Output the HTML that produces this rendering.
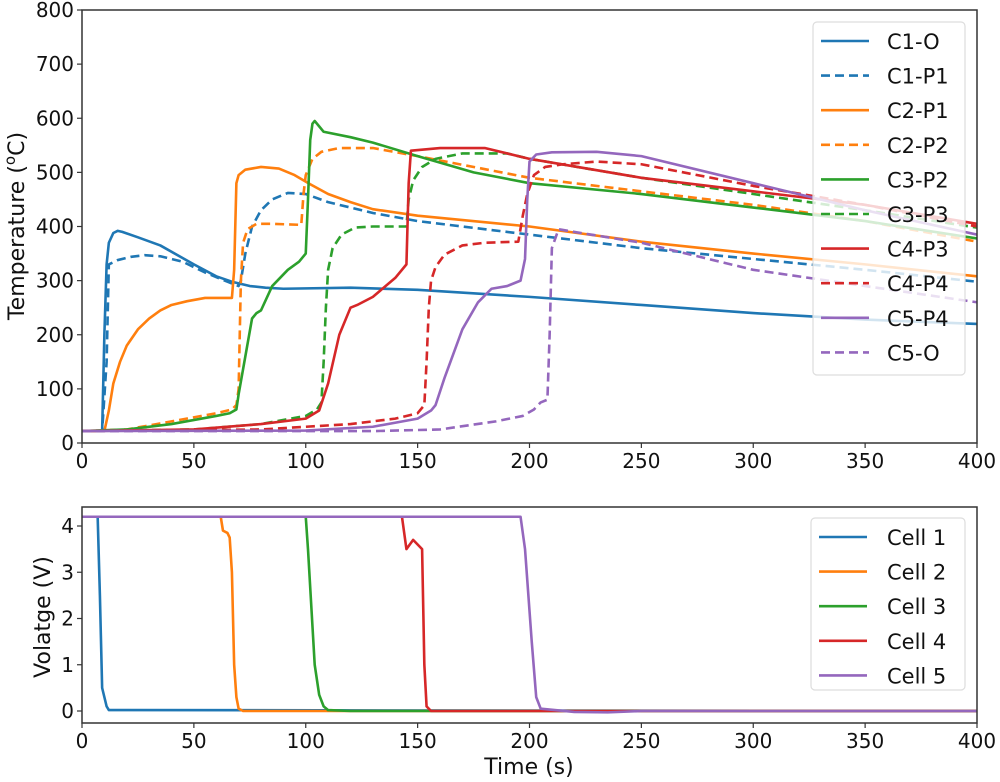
<!DOCTYPE html>
<html><head><meta charset="utf-8"><style>
body{margin:0;background:#fff;}
svg{display:block;font-family:"DejaVu Sans","Liberation Sans",sans-serif;}
</style></head><body>
<svg id="chart" width="1000" height="782" viewBox="0 0 1000 782" xmlns="http://www.w3.org/2000/svg"></svg>
<script>
const timeTicks=[0,50,100,150,200,250,300,350,400];
const tempTicks=[0,100,200,300,400,500,600,700,800];
const voltTicks=[0,1,2,3,4];
const tempNames=["C1-O","C1-P1","C2-P1","C2-P2","C3-P2","C3-P3","C4-P3","C4-P4","C5-P4","C5-O"];
const tempColors=["#1f77b4","#1f77b4","#ff7f0e","#ff7f0e","#2ca02c","#2ca02c","#d62728","#d62728","#9467bd","#9467bd"];
const tempDashed=[false,true,false,true,false,true,false,true,false,true];
const c1o=[[0,22],[9,22],[10,200],[11,330],[12,370],[14,388],[16,392],[18,390],[25,380],[35,365],[50,330],[60,308],[67,298],[75,290],[82,287],[90,285],[120,287],[150,283],[200,270],[250,255],[300,240],[350,228],[400,220]];
const c1p1=[[0,22],[9,22],[11,150],[12,330],[16,338],[22,344],[28,347],[35,345],[45,335],[55,315],[65,298],[70,290],[71,300],[73,350],[76,400],[80,430],[85,450],[92,462],[100,460],[110,445],[130,425],[150,410],[200,385],[250,360],[300,340],[350,320],[400,298]];
const c2p1=[[0,22],[10,22],[12,60],[14,110],[17,150],[20,180],[25,210],[30,230],[35,245],[40,255],[47,262],[55,268],[67,268],[68,320],[69,480],[70,495],[73,505],[80,510],[88,507],[95,495],[102,478],[110,460],[120,445],[130,432],[150,420],[200,400],[250,372],[300,350],[350,330],[400,308]];
const c2p2=[[0,22],[20,25],[40,40],[60,55],[67,62],[69,70],[70,100],[71,300],[72,370],[74,395],[78,405],[85,405],[98,403],[99,460],[100,495],[103,525],[107,538],[115,545],[130,545],[150,530],[200,490],[250,465],[300,440],[350,410],[400,372]];
const c3p2=[[0,22],[20,25],[40,35],[60,50],[66,55],[69,62],[70,90],[73,160],[76,230],[78,240],[80,245],[85,290],[92,320],[97,335],[100,350],[101,450],[102,560],[103,590],[104,595],[106,585],[108,575],[120,565],[130,555],[150,530],[175,500],[200,480],[250,460],[300,435],[350,410],[400,378]];
const c3p3=[[0,22],[50,25],[80,35],[100,50],[105,62],[107,75],[108,150],[109,250],[110,320],[112,360],[116,385],[122,398],[130,400],[145,400],[146,450],[148,485],[152,510],[158,525],[170,535],[190,535],[200,525],[250,490],[300,460],[350,430],[400,398]];
const c4p3=[[0,22],[50,25],[80,35],[100,45],[106,60],[110,110],[115,200],[120,250],[123,255],[130,270],[140,305],[145,330],[146,480],[147,540],[160,545],[180,545],[200,525],[250,490],[300,465],[350,440],[400,405]];
const c4p4=[[0,22],[80,25],[120,35],[140,45],[150,55],[153,70],[154,150],[155,250],[156,300],[158,325],[162,348],[170,365],[180,370],[195,372],[197,420],[199,460],[202,495],[207,510],[215,515],[230,520],[250,515],[300,475],[350,440],[400,400]];
const c5p4=[[0,22],[100,23],[130,30],[150,45],[156,60],[158,70],[162,120],[170,210],[177,260],[183,285],[190,290],[196,300],[198,340],[199,450],[200,520],[203,533],[210,537],[230,538],[250,530],[300,480],[350,430],[400,385]];
const c5o=[[0,22],[130,22],[160,25],[185,40],[197,50],[202,62],[205,75],[208,80],[209,200],[210,360],[213,395],[220,390],[250,370],[300,320],[350,290],[400,260]];
const tempSeries=[c1o,c1p1,c2p1,c2p2,c3p2,c3p3,c4p3,c4p4,c5p4,c5o];
const voltNames=["Cell 1","Cell 2","Cell 3","Cell 4","Cell 5"];
const voltColors=["#1f77b4","#ff7f0e","#2ca02c","#d62728","#9467bd"];
const cell1=[[0,4.2],[7,4.2],[8,2.5],[9,0.5],[10,0.3],[11,0.1],[12,0.02],[400,0]];
const cell2=[[0,4.2],[62,4.2],[63,3.9],[65,3.85],[66,3.75],[67,3.0],[68,1.0],[69,0.3],[70,0.05],[72,0],[400,0]];
const cell3=[[0,4.2],[100,4.2],[101,3.5],[104,1.0],[106,0.35],[108,0.1],[110,0.02],[120,0],[400,0]];
const cell4=[[0,4.2],[143,4.2],[145,3.5],[148,3.7],[150,3.6],[152,3.5],[153,1.0],[154,0.1],[156,0],[400,0]];
const cell5=[[0,4.2],[196,4.2],[198,3.5],[201,1.5],[203,0.3],[205,0.05],[220,-0.02],[235,-0.03],[250,0],[400,0]];
const voltSeries=[cell1,cell2,cell3,cell4,cell5];

const svg=document.getElementById('chart');
const NS="http://www.w3.org/2000/svg";
function mk(tag,attrs,parent){const e=document.createElementNS(NS,tag);for(const k in attrs)e.setAttribute(k,attrs[k]);(parent||svg).appendChild(e);return e;}
const X0=82,X1=977;
const xs=t=>X0+(t-0)/400*(X1-X0);
const yT=v=>443-v/800*(443-10);
const yV=v=>711-v/4*(711-526);

function frame(top,bottom,name){
  const r=mk('rect',{x:X0,y:top,width:X1-X0,height:bottom-top,fill:'none',stroke:'#333',"stroke-width":1.5});
  
  
}
function xaxis(bottom,name){
  const g=mk('g',{});
  
  
  timeTicks.forEach(t=>{
    mk('line',{x1:xs(t),x2:xs(t),y1:bottom,y2:bottom+5,stroke:'#333',"stroke-width":1.2},g);
    const tx=mk('text',{x:xs(t),y:bottom+25,"font-size":20,"text-anchor":"middle",fill:'#111'},g);
    tx.textContent=t;
  });
}
function yaxis(ticks,yf,name){
  const g=mk('g',{});
  
  
  ticks.forEach(v=>{
    mk('line',{x1:X0-5,x2:X0,y1:yf(v),y2:yf(v),stroke:'#333',"stroke-width":1.2},g);
    const tx=mk('text',{x:X0-8,y:yf(v)+7,"font-size":20,"text-anchor":"end",fill:'#111'},g);
    tx.textContent=v;
  });
}
function clip(id,top,bottom){
  const d=mk('defs',{});const c=mk('clipPath',{id:id},d);
  mk('rect',{x:X0,y:top,width:X1-X0,height:bottom-top},c);
}
clip('ct',10,443);clip('cv',507,723);

yaxis(tempTicks,yT,'temperature-y-axis');
xaxis(443,'top-x-axis');
tempSeries.forEach((s,i)=>{
  const p=mk('polyline',{points:s.map(d=>xs(d[0])+','+yT(d[1])).join(' '),fill:'none',stroke:tempColors[i],"stroke-width":2.6,"stroke-dasharray":tempDashed[i]?'9,5':'none',"clip-path":'url(#ct)',"stroke-linejoin":'round'});
  
  
});
frame(10,443,'top-plot-frame');
const yl=mk('text',{x:0,y:0,"font-size":22,"text-anchor":"middle",fill:'#111',transform:'translate(24,226) rotate(-90)'});


yl.innerHTML='Temperature (<tspan font-size="15" dy="-9">o</tspan><tspan dy="9">C)</tspan>';

const lg=mk('g',{});


mk('rect',{x:813,y:22,width:152,height:353,rx:4,fill:'#fff',"fill-opacity":0.8,stroke:'#ddd',"stroke-width":1.2},lg);
tempNames.forEach((n,i)=>{
  const y=41+i*34.6;
  const e=mk('g',{},lg);
  
  
  mk('line',{x1:821,x2:869,y1:y,y2:y,stroke:tempColors[i],"stroke-width":2.6,"stroke-dasharray":tempDashed[i]?'9,5':'none'},e);
  const t=mk('text',{x:887,y:y+8,"font-size":21,fill:'#111'},e);t.textContent=n;
});

yaxis(voltTicks,yV,'voltage-y-axis');
xaxis(723,'bottom-x-axis');
voltSeries.forEach((s,i)=>{
  const p=mk('polyline',{points:s.map(d=>xs(d[0])+','+yV(d[1])).join(' '),fill:'none',stroke:voltColors[i],"stroke-width":2.6,"clip-path":'url(#cv)',"stroke-linejoin":'round'});
  
  
});
frame(507,723,'bottom-plot-frame');
const vl=mk('text',{x:0,y:0,"font-size":22,"text-anchor":"middle",fill:'#111',transform:'translate(50,617) rotate(-90)'});


vl.textContent='Volatge (V)';
const xl=mk('text',{x:529,y:774,"font-size":22,"text-anchor":"middle",fill:'#111'});


xl.textContent='Time (s)';

const lg2=mk('g',{});


mk('rect',{x:811,y:518,width:154,height:172,rx:4,fill:'#fff',"fill-opacity":0.8,stroke:'#ddd',"stroke-width":1.2},lg2);
voltNames.forEach((n,i)=>{
  const y=537+i*34.6;
  const e=mk('g',{},lg2);
  
  
  mk('line',{x1:819,x2:867,y1:y,y2:y,stroke:voltColors[i],"stroke-width":2.6},e);
  const t=mk('text',{x:887,y:y+8,"font-size":21,fill:'#111'},e);t.textContent=n;
});
</script>
</body></html>
